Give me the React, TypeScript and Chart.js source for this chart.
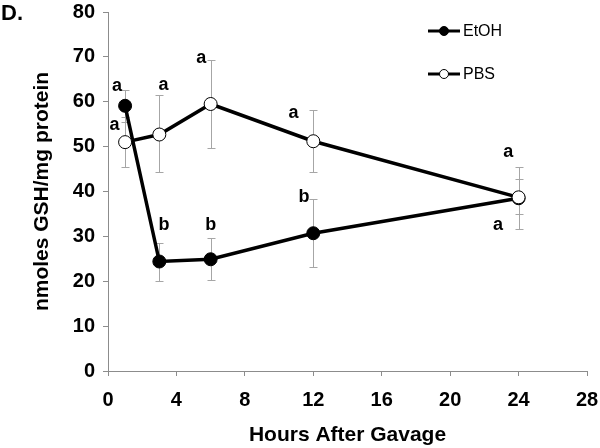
import React, { useEffect, useRef } from "react";
import { Chart, registerables } from "chart.js";

Chart.register(...registerables);

const FONT = "'Liberation Sans', Arial, Helvetica, sans-serif";

// Data
const hours = [1, 3, 6, 12, 24];
const etohMean = [59.1, 24.4, 24.9, 30.7, 38.5];
const etohHigh = [62.6, 28.6, 29.6, 38.3, 42.7];
const etohLow = [55.5, 20.1, 20.2, 23.2, 34.9];
const pbsMean = [51.0, 52.7, 59.5, 51.2, 38.7];
const pbsHigh = [56.5, 61.5, 69.3, 58.1, 45.5];
const pbsLow = [45.4, 44.3, 49.6, 44.3, 31.6];

// Significance letters (placed in data space)
const letterText = ["a", "a", "a", "b", "a", "b", "a", "b", "a", "a"];
const letterX = [0.52, 0.38, 3.25, 3.27, 5.45, 6.0, 10.85, 11.46, 23.4, 22.8];
const letterY = [63.6, 54.8, 63.7, 32.5, 69.7, 32.5, 57.4, 38.8, 48.9, 32.5];

const seriesNames = ["EtOH", "PBS"];
const xTitle = "Hours After Gavage";
const yTitle = "nmoles GSH/mg protein";
const panelLabel = "D.";

export default function App() {
  const ref = useRef<HTMLCanvasElement>(null);

  useEffect(() => {
    const canvas = ref.current;
    if (!canvas) return;

    const errorBars = {
      id: "errorBars",
      beforeDatasetsDraw(chart: any) {
        const { ctx, scales } = chart;
        const x = scales.x;
        const y = scales.y;
        ctx.save();
        ctx.strokeStyle = "#a6a6a6";
        ctx.lineWidth = 1;
        const sets = [
          [etohHigh, etohLow],
          [pbsHigh, pbsLow],
        ];
        sets.forEach(([hi, lo]) => {
          hours.forEach((h, i) => {
            const px = Math.round(x.getPixelForValue(h)) + 0.5;
            const p1 = Math.round(y.getPixelForValue(hi[i])) + 0.5;
            const p2 = Math.round(y.getPixelForValue(lo[i])) + 0.5;
            ctx.beginPath();
            ctx.moveTo(px, p1);
            ctx.lineTo(px, p2);
            ctx.moveTo(px - 4, p1);
            ctx.lineTo(px + 4, p1);
            ctx.moveTo(px - 4, p2);
            ctx.lineTo(px + 4, p2);
            ctx.stroke();
          });
        });
        ctx.restore();
      },
    };

    const annotations = {
      id: "annotations",
      afterDatasetsDraw(chart: any) {
        const { ctx, scales, chartArea } = chart;
        const x = scales.x;
        const y = scales.y;
        ctx.save();
        // letters
        ctx.fillStyle = "#000";
        ctx.font = `bold 18px ${FONT}`;
        ctx.textAlign = "center";
        ctx.textBaseline = "middle";
        letterText.forEach((t, i) => {
          ctx.fillText(t, x.getPixelForValue(letterX[i]), y.getPixelForValue(letterY[i]));
        });
        // panel label
        ctx.textAlign = "left";
        ctx.textBaseline = "top";
        ctx.font = `bold 22px ${FONT}`;
        ctx.fillText(panelLabel, 1, 3);
        // legend
        const lx0 = chartArea.right - 159;
        const lx1 = chartArea.right - 127;
        const rows = [chartArea.top + 19, chartArea.top + 62];
        const fills = ["#000", "#fff"];
        ctx.font = `16px ${FONT}`;
        ctx.textBaseline = "middle";
        rows.forEach((ry, i) => {
          ctx.strokeStyle = "#000";
          ctx.lineWidth = 3;
          ctx.beginPath();
          ctx.moveTo(lx0, ry);
          ctx.lineTo(lx1, ry);
          ctx.stroke();
          ctx.beginPath();
          ctx.arc((lx0 + lx1) / 2, ry, 4.5, 0, Math.PI * 2);
          ctx.fillStyle = fills[i];
          ctx.fill();
          ctx.lineWidth = 1;
          ctx.stroke();
          ctx.fillStyle = "#000";
          ctx.fillText(seriesNames[i], lx1 + 3, ry + 1);
        });
        ctx.restore();
      },
    };

    const chart = new Chart(canvas, {
      type: "line",
      data: {
        datasets: [
          {
            label: seriesNames[0],
            data: hours.map((h, i) => ({ x: h, y: etohMean[i] })),
            borderColor: "#000",
            borderWidth: 3.5,
            pointRadius: 6.5,
            pointBorderWidth: 1,
            pointBorderColor: "#000",
            pointBackgroundColor: "#000",
            tension: 0,
            order: 1,
          },
          {
            label: seriesNames[1],
            data: hours.map((h, i) => ({ x: h, y: pbsMean[i] })),
            borderColor: "#000",
            borderWidth: 3.5,
            pointRadius: 6.5,
            pointBorderWidth: 1,
            pointBorderColor: "#000",
            pointBackgroundColor: "#fff",
            tension: 0,
            order: 0,
          },
        ],
      },
      options: {
        responsive: false,
        animation: false,
        layout: { padding: { top: 12, right: 13, left: 0, bottom: 0 } },
        plugins: {
          legend: { display: false },
          tooltip: { enabled: false },
        },
        scales: {
          x: {
            type: "linear",
            min: 0,
            max: 28,
            ticks: {
              stepSize: 4,
              color: "#000",
              font: { family: FONT, size: 20, weight: "bold" },
              padding: 12,
              maxRotation: 0,
            },
            grid: {
              display: true,
              drawOnChartArea: false,
              drawTicks: true,
              tickLength: 5,
              color: "#8c8c8c",
            },
            border: { display: true, color: "#8c8c8c", width: 1 },
            title: {
              display: true,
              text: xTitle,
              color: "#000",
              font: { family: FONT, size: 21, weight: "bold" },
              padding: { top: 0, bottom: 0 },
            },
            afterFit(s: any) {
              s.height = 77;
              s.paddingLeft = 0;
              s.paddingRight = 0;
            },
          },
          y: {
            type: "linear",
            min: 0,
            max: 80,
            ticks: {
              stepSize: 10,
              color: "#000",
              font: { family: FONT, size: 20, weight: "bold" },
              padding: 8,
            },
            grid: {
              display: true,
              drawOnChartArea: false,
              drawTicks: true,
              tickLength: 5,
              color: "#8c8c8c",
            },
            border: { display: true, color: "#8c8c8c", width: 1 },
            title: {
              display: true,
              text: yTitle,
              color: "#000",
              font: { family: FONT, size: 21, weight: "bold" },
              padding: { top: 30, bottom: 0 },
            },
            afterFit(s: any) {
              s.width = 108;
              s.paddingTop = 0;
              s.paddingBottom = 0;
            },
          },
        },
      },
      plugins: [errorBars, annotations],
    } as any);

    return () => chart.destroy();
  }, []);

  return (
    <div style={{ position: "absolute", left: 0, top: 0, width: 600, height: 448, background: "#fff" }}>
      <canvas ref={ref} width={600} height={448} style={{ display: "block" }} />
    </div>
  );
}
